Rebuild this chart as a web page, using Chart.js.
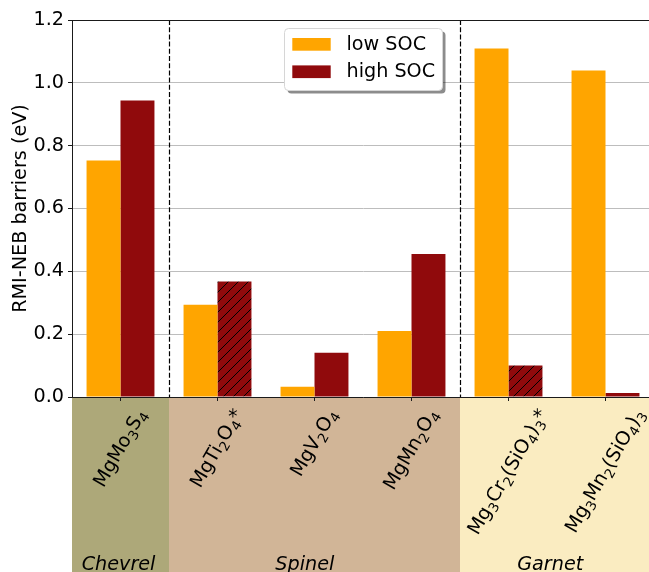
<!DOCTYPE html>
<html>
<head>
<meta charset="utf-8">
<script src="https://cdn.jsdelivr.net/npm/chart.js@4"></script>
<style>
  html, body { margin: 0; padding: 0; overflow: hidden; background: #fff; }
  #wrap { width: 660px; height: 572px; position: relative; }
</style>
</head>
<body>
<div id="wrap"><canvas id="c"></canvas></div>
<script>
// Compounds (underscore marks the next character as a subscript)
const compounds = ['MgMo_3S_4', 'MgTi_2O_4*', 'MgV_2O_4', 'MgMn_2O_4', 'Mg_3Cr_2(SiO_4)_3*', 'Mg_3Mn_2(SiO_4)_3'];
// RMI-NEB migration barriers in eV
const lowSOC  = [0.753, 0.294, 0.033, 0.210, 1.109, 1.039];
const highSOC = [0.944, 0.368, 0.141, 0.455, 0.100, 0.013];
// high-SOC bars computed with a different setup are hatched
const hatchedHigh = [false, true, false, false, true, false];
// structural families and the compound index range each one covers
const families    = ['Chevrel', 'Spinel', 'Garnet'];
const familyFirst = [0, 1, 4];
const familyLast  = [0, 3, 5];
const seriesNames = ['low SOC', 'high SOC'];
const yMin = 0, yMax = 1.2, yStep = 0.2;

// ---- styling ----
const FONT = "'DejaVu Sans', sans-serif";
const FS = 19.2;
const ORANGE = '#ffa500';
const RED = '#900a0c';
const INK = '#1a1a1a';
const bandColors = ['#ada879', '#d1b597', '#faecc1'];
const familyLabelAt = [-0.02, 1.9, 4.43];   // category-index position of each family name

function hatchPattern(color) {
  const s = 10;
  const c = document.createElement('canvas');
  c.width = s; c.height = s;
  const g = c.getContext('2d');
  g.fillStyle = color;
  g.fillRect(0, 0, s, s);
  g.strokeStyle = '#000';
  g.lineWidth = 1;
  g.beginPath();
  g.moveTo(-1, s + 1); g.lineTo(s + 1, -1);
  g.moveTo(-1, 1); g.lineTo(1, -1);
  g.moveTo(s - 1, s + 1); g.lineTo(s + 1, s - 1);
  g.stroke();
  return g.createPattern(c, 'repeat');
}

function parseFormula(s) {
  const parts = [];
  for (let i = 0; i < s.length; i++) {
    let ch = s[i], sub = false;
    if (ch === '_') { ch = s[i + 1]; sub = true; i++; }
    const last = parts[parts.length - 1];
    if (last && last.sub === sub) last.t += ch; else parts.push({ t: ch, sub });
  }
  return parts;
}

function formulaWidth(ctx, parts, fs) {
  let w = 0;
  for (const p of parts) {
    ctx.font = `${p.sub ? fs * 0.7 : fs}px ${FONT}`;
    w += ctx.measureText(p.t).width;
  }
  return w;
}

function drawFormula(ctx, parts, fs, x, y) {
  // x: left, y: baseline
  let cx = x;
  for (const p of parts) {
    const size = p.sub ? fs * 0.7 : fs;
    ctx.font = `${size}px ${FONT}`;
    ctx.fillText(p.t, cx, p.sub ? y + fs * 0.22 : y);
    cx += ctx.measureText(p.t).width;
  }
}

const decorations = {
  id: 'decorations',
  beforeDraw(chart) {
    const { ctx, chartArea, scales: { x } } = chart;
    const half = (x.getPixelForValue(1) - x.getPixelForValue(0)) / 2;
    ctx.save();
    families.forEach((f, i) => {
      const l = x.getPixelForValue(familyFirst[i]) - half;
      const r = i === families.length - 1 ? chart.width : x.getPixelForValue(familyLast[i]) + half;
      ctx.fillStyle = bandColors[i];
      ctx.fillRect(l, chartArea.bottom, r - l, chart.height - chartArea.bottom);
    });
    ctx.restore();
  },
  afterDatasetsDraw(chart) {
    const { ctx, chartArea, scales: { x } } = chart;
    const half = (x.getPixelForValue(1) - x.getPixelForValue(0)) / 2;
    ctx.save();
    // family separators
    ctx.strokeStyle = '#000';
    ctx.lineWidth = 1.2;
    ctx.setLineDash([5, 2.2]);
    for (let i = 1; i < families.length; i++) {
      const px = Math.round(x.getPixelForValue(familyFirst[i]) - half) + 0.5;
      ctx.beginPath();
      ctx.moveTo(px, chartArea.top);
      ctx.lineTo(px, chartArea.bottom);
      ctx.stroke();
    }
    ctx.setLineDash([]);
    // top frame
    ctx.strokeStyle = INK;
    ctx.lineWidth = 1;
    ctx.beginPath();
    ctx.moveTo(chartArea.left, chartArea.top + 0.5);
    ctx.lineTo(chart.width, chartArea.top + 0.5);
    ctx.stroke();
    ctx.restore();
  },
  afterDraw(chart) {
    const { ctx, chartArea, scales: { x } } = chart;
    ctx.save();
    ctx.fillStyle = '#000';
    ctx.textAlign = 'left';
    ctx.textBaseline = 'alphabetic';
    // rotated compound names
    const ang = 60 * Math.PI / 180;
    const top = chartArea.bottom + 9;
    compounds.forEach((lab, i) => {
      const parts = parseFormula(lab);
      const w = formulaWidth(ctx, parts, FS);
      const h = FS * 1.05;
      const H = w * Math.sin(ang) + h * Math.cos(ang);
      const cx = x.getPixelForValue(i);
      const cy = top + H / 2;
      ctx.save();
      ctx.translate(cx, cy);
      ctx.rotate(-ang);
      drawFormula(ctx, parts, FS, -w / 2, FS * 0.27);
      ctx.restore();
    });
    // family names
    ctx.font = `italic ${FS}px ${FONT}`;
    ctx.textAlign = 'center';
    families.forEach((f, i) => {
      ctx.fillText(f, x.getPixelForValue(familyLabelAt[i]), 569.5);
    });

    // legend box with drop shadow
    const bx = chartArea.left + 212.5, by = chartArea.top + 8.5, bw = 158, bh = 62, rr = 4;
    const rrect = (x0, y0) => {
      ctx.beginPath();
      ctx.roundRect(x0, y0, bw, bh, rr);
    };
    ctx.fillStyle = 'rgba(0,0,0,0.45)';
    rrect(bx + 3, by + 3); ctx.fill();
    ctx.fillStyle = '#fff';
    rrect(bx, by); ctx.fill();
    ctx.strokeStyle = '#d6d6d6';
    ctx.lineWidth = 1;
    rrect(bx, by); ctx.stroke();
    const swatchColors = [ORANGE, RED];
    ctx.font = `${FS}px ${FONT}`;
    ctx.textAlign = 'left';
    ctx.textBaseline = 'middle';
    chart.data.datasets.forEach((ds, k) => {
      const sy = by + 9.5 + k * 27.4;
      ctx.fillStyle = swatchColors[k];
      ctx.fillRect(bx + 7.8, sy, 38.4, 12.7);
      ctx.fillStyle = '#000';
      ctx.fillText(ds.label, bx + 62, sy + 7);
    });
    ctx.restore();
  }
};

const ctx = document.getElementById('c').getContext('2d');
new Chart(ctx, {
  type: 'bar',
  data: {
    labels: compounds,
    datasets: [
      { label: seriesNames[0], data: lowSOC, backgroundColor: ORANGE, borderWidth: 0 },
      { label: seriesNames[1], data: highSOC,
        backgroundColor: hatchedHigh.map(hh => hh ? hatchPattern(RED) : RED), borderWidth: 0 }
    ]
  },
  options: {
    responsive: true,
    maintainAspectRatio: false,
    animation: false,
    devicePixelRatio: 1,
    layout: { padding: { top: 20, right: 6, left: 0, bottom: 0 } },
    datasets: { bar: { categoryPercentage: 0.7, barPercentage: 1.0 } },
    plugins: { legend: { display: false }, tooltip: { enabled: false } },
    scales: {
      x: {
        offset: true,
        grid: { display: true, offset: false, drawOnChartArea: false, drawTicks: true, tickLength: 4, color: INK, lineWidth: 1 },
        border: { display: true, color: INK, width: 1 },
        ticks: { display: false },
        afterFit: s => { s.height = 175; }
      },
      y: {
        min: yMin, max: yMax,
        ticks: {
          stepSize: yStep,
          color: '#000',
          padding: 4,
          font: { family: FONT, size: FS },
          callback: v => Number(v).toFixed(1)
        },
        grid: { color: '#bdbdbd', lineWidth: 1, drawTicks: true, tickLength: 4, tickColor: INK },
        border: { display: true, color: INK, width: 1 },
        title: {
          display: true,
          text: 'RMI-NEB barriers (eV)',
          color: '#000',
          font: { family: FONT, size: FS },
          padding: { top: 9, bottom: 0 }
        },
        afterFit: s => { s.width = 72; }
      }
    }
  },
  plugins: [decorations]
});
</script>
</body>
</html>
